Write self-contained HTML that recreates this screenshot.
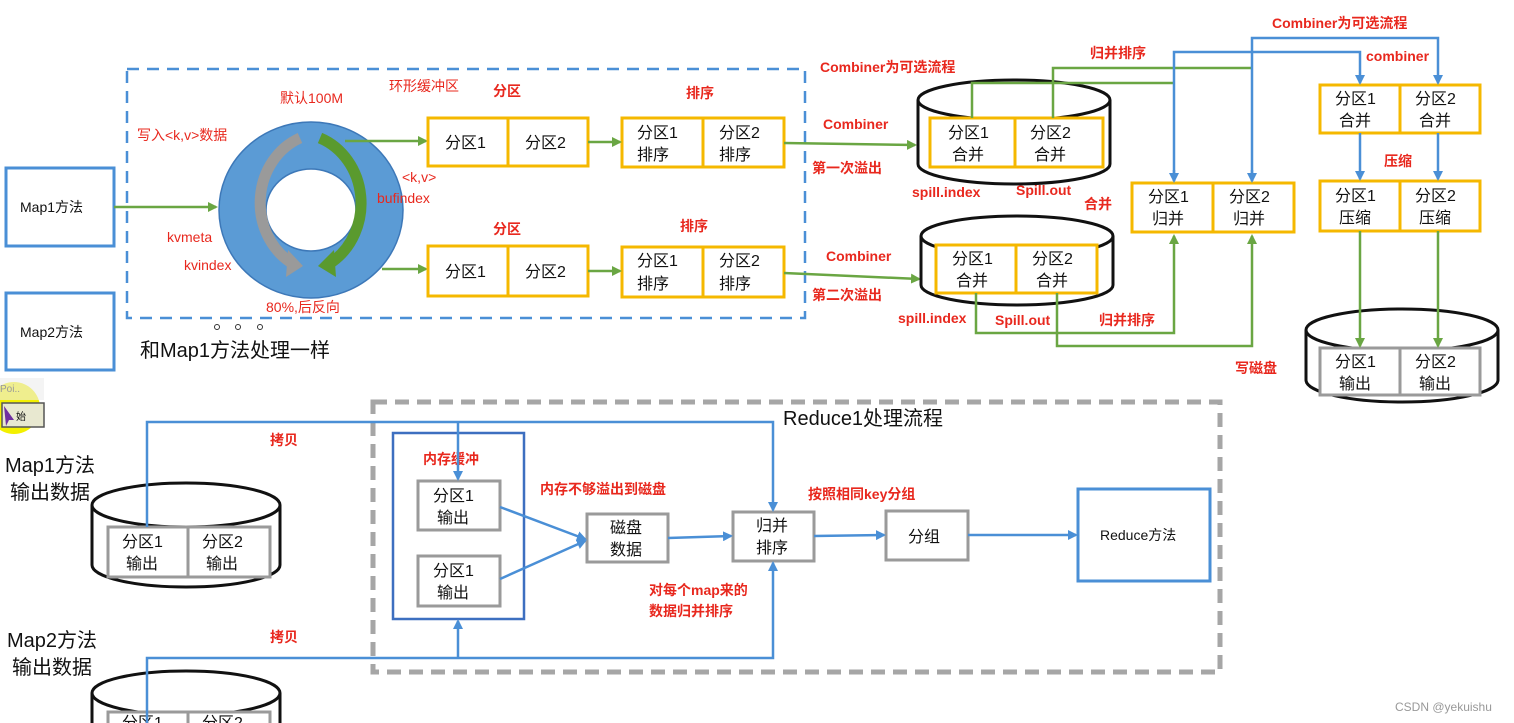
<!DOCTYPE html>
<html><head><meta charset="utf-8"><style>
html,body{margin:0;padding:0;background:#fff;}
svg{display:block;font-family:"Liberation Sans","Noto Sans CJK SC",sans-serif;}
.r{fill:#e8281e;font-weight:bold;font-size:14px;}
.rn{fill:#e8281e;font-size:14px;}
.b{fill:#111;font-size:17px;}
.s{fill:#111;font-size:14px;}
</style></head><body>
<svg width="1514" height="723" viewBox="0 0 1514 723" xmlns="http://www.w3.org/2000/svg">
<defs>
<marker id="ag" markerWidth="10" markerHeight="10" refX="8" refY="5" orient="auto" markerUnits="userSpaceOnUse"><path d="M0,0 L10,5 L0,10 z" fill="#6aa643"/></marker>
<marker id="ab" markerWidth="10" markerHeight="10" refX="8" refY="5" orient="auto" markerUnits="userSpaceOnUse"><path d="M0,0 L10,5 L0,10 z" fill="#4a8fd6"/></marker>
</defs>
<rect width="1514" height="723" fill="#fff"/>

<rect x="127" y="69" width="678" height="249" fill="none" stroke="#4a8fd6" stroke-width="2.5" stroke-dasharray="12,8"/>

<rect x="6" y="168" width="108" height="78" fill="#fff" stroke="#4a8fd6" stroke-width="3"/>
<text x="20" y="212" class="s">Map1方法</text>
<rect x="6" y="293" width="108" height="77" fill="#fff" stroke="#4a8fd6" stroke-width="3"/>
<text x="20" y="337" class="s">Map2方法</text>
<line x1="114" y1="207" x2="216" y2="207" stroke="#6aa643" stroke-width="2.5" marker-end="url(#ag)"/>

<ellipse cx="311" cy="210" rx="92" ry="88" fill="#5b9bd5" stroke="#3d78b8" stroke-width="1.5"/>
<ellipse cx="311" cy="210" rx="45" ry="41" fill="#fff" stroke="#3d78b8" stroke-width="1.5"/>
<path d="M300,138 A64,70 0 0 0 290,262" fill="none" stroke="#9a9a9a" stroke-width="11"/>
<path d="M288,250 L303,266 L286,277 z" fill="#9a9a9a"/>
<path d="M320,138 A64,70 0 0 1 332,262" fill="none" stroke="#5a9a2e" stroke-width="11"/>
<path d="M334,250 L318,266 L336,277 z" fill="#5a9a2e"/>

<text x="280" y="103" class="rn">默认100M</text>
<text x="389" y="91" class="rn">环形缓冲区</text>
<text x="137" y="140" class="rn">写入&lt;k,v&gt;数据</text>
<text x="402" y="182" class="rn">&lt;k,v&gt;</text>
<text x="377" y="203" class="rn">bufindex</text>
<text x="167" y="242" class="rn">kvmeta</text>
<text x="184" y="270" class="rn">kvindex</text>
<text x="266" y="312" class="rn">80%,后反向</text>

<line x1="345" y1="141" x2="426" y2="141" stroke="#6aa643" stroke-width="2.5" marker-end="url(#ag)"/>
<line x1="382" y1="269" x2="426" y2="269" stroke="#6aa643" stroke-width="2.5" marker-end="url(#ag)"/>
<g stroke="#f5b800" stroke-width="3" fill="#fff">
<rect x="428" y="118" width="160" height="48"/><line x1="508" y1="118" x2="508" y2="166"/>
<rect x="622" y="118" width="162" height="49"/><line x1="703" y1="118" x2="703" y2="167"/>
<rect x="428" y="246" width="160" height="50"/><line x1="508" y1="246" x2="508" y2="296"/>
<rect x="622" y="247" width="162" height="50"/><line x1="703" y1="247" x2="703" y2="297"/>
</g>
<g fill="#111" style="font-size:16px">
<text x="445" y="148">分区1</text><text x="525" y="148">分区2</text>
<text x="637" y="138">分区1</text><text x="637" y="160">排序</text>
<text x="719" y="138">分区2</text><text x="719" y="160">排序</text>
<text x="445" y="277">分区1</text><text x="525" y="277">分区2</text>
<text x="637" y="266">分区1</text><text x="637" y="289">排序</text>
<text x="719" y="266">分区2</text><text x="719" y="289">排序</text>
</g>
<line x1="588" y1="142" x2="620" y2="142" stroke="#6aa643" stroke-width="2.5" marker-end="url(#ag)"/>
<line x1="588" y1="271" x2="620" y2="271" stroke="#6aa643" stroke-width="2.5" marker-end="url(#ag)"/>
<text x="493" y="96" class="r">分区</text>
<text x="686" y="98" class="r">排序</text>
<text x="493" y="234" class="r">分区</text>
<text x="680" y="231" class="r">排序</text>
<text x="140" y="357" fill="#111" style="font-size:20px">和Map1方法处理一样</text>
<circle cx="217" cy="327" r="2.5" fill="none" stroke="#333"/><circle cx="238" cy="327" r="2.5" fill="none" stroke="#333"/><circle cx="260" cy="327" r="2.5" fill="none" stroke="#333"/>

<line x1="784" y1="143" x2="915" y2="145" stroke="#6aa643" stroke-width="2.5" marker-end="url(#ag)"/>
<line x1="784" y1="273" x2="919" y2="279" stroke="#6aa643" stroke-width="2.5" marker-end="url(#ag)"/>
<text x="823" y="129" class="r">Combiner</text>
<text x="812" y="173" class="r">第一次溢出</text>
<text x="826" y="261" class="r">Combiner</text>
<text x="812" y="300" class="r">第二次溢出</text>
<text x="820" y="72" class="r">Combiner为可选流程</text>

<g stroke="#111" stroke-width="3" fill="#fff">
<path d="M918,100 L918,164 A96,20 0 0 0 1110,164 L1110,100"/>
<ellipse cx="1014" cy="100" rx="96" ry="20"/>
<path d="M921,236 L921,285 A96,20 0 0 0 1113,285 L1113,236"/>
<ellipse cx="1017" cy="236" rx="96" ry="20"/>
<path d="M1306,330 L1306,380 A96,22 0 0 0 1498,380 L1498,330"/>
<ellipse cx="1402" cy="330" rx="96" ry="21"/>
</g>
<g stroke="#f5b800" stroke-width="3" fill="#fff">
<rect x="930" y="118" width="173" height="49"/><line x1="1015" y1="118" x2="1015" y2="167"/>
<rect x="936" y="245" width="161" height="48"/><line x1="1016" y1="245" x2="1016" y2="293"/>
<rect x="1132" y="183" width="162" height="49"/><line x1="1213" y1="183" x2="1213" y2="232"/>
<rect x="1320" y="85" width="160" height="48"/><line x1="1400" y1="85" x2="1400" y2="133"/>
<rect x="1320" y="181" width="160" height="50"/><line x1="1400" y1="181" x2="1400" y2="231"/>
</g>
<g stroke="#9a9a9a" stroke-width="3" fill="#fff">
<rect x="1320" y="348" width="160" height="47"/><line x1="1400" y1="348" x2="1400" y2="395"/>
</g>
<g fill="#111" style="font-size:16px">
<text x="948" y="138">分区1</text><text x="952" y="160">合并</text>
<text x="1030" y="138">分区2</text><text x="1034" y="160">合并</text>
<text x="952" y="264">分区1</text><text x="956" y="286">合并</text>
<text x="1032" y="264">分区2</text><text x="1036" y="286">合并</text>
<text x="1148" y="202">分区1</text><text x="1152" y="224">归并</text>
<text x="1229" y="202">分区2</text><text x="1233" y="224">归并</text>
<text x="1335" y="104">分区1</text><text x="1339" y="126">合并</text>
<text x="1415" y="104">分区2</text><text x="1419" y="126">合并</text>
<text x="1335" y="201">分区1</text><text x="1339" y="223">压缩</text>
<text x="1415" y="201">分区2</text><text x="1419" y="223">压缩</text>
<text x="1335" y="367">分区1</text><text x="1339" y="389">输出</text>
<text x="1415" y="367">分区2</text><text x="1419" y="389">输出</text>
</g>
<text x="912" y="197" class="r">spill.index</text>
<text x="1016" y="195" class="r">Spill.out</text>
<text x="1084" y="209" class="r">合并</text>
<text x="898" y="323" class="r">spill.index</text>
<text x="995" y="325" class="r">Spill.out</text>
<text x="1099" y="325" class="r">归并排序</text>
<text x="1090" y="58" class="r">归并排序</text>
<text x="1272" y="28" class="r">Combiner为可选流程</text>
<text x="1366" y="61" class="r">combiner</text>
<text x="1384" y="166" class="r">压缩</text>
<text x="1235" y="373" class="r">写磁盘</text>

<g fill="none" stroke="#6aa643" stroke-width="2.5">
<polyline points="972,118 972,83 1174,83"/>
<polyline points="1053,118 1053,68 1252,68"/>
<polyline points="976,293 976,333 1174,333 1174,236" marker-end="url(#ag)"/>
<polyline points="1057,293 1057,346 1252,346 1252,236" marker-end="url(#ag)"/>
<line x1="1360" y1="231" x2="1360" y2="346" marker-end="url(#ag)"/>
<line x1="1438" y1="231" x2="1438" y2="346" marker-end="url(#ag)"/>
</g>
<g fill="none" stroke="#4a8fd6" stroke-width="2.5">
<polyline points="1174,181 1174,52 1360,52 1360,83" marker-end="url(#ab)"/>
<polyline points="1252,181 1252,38 1438,38 1438,83" marker-end="url(#ab)"/>
<line x1="1174" y1="170" x2="1174" y2="181" marker-end="url(#ab)"/>
<line x1="1252" y1="170" x2="1252" y2="181" marker-end="url(#ab)"/>
<line x1="1360" y1="133" x2="1360" y2="179" marker-end="url(#ab)"/>
<line x1="1438" y1="133" x2="1438" y2="179" marker-end="url(#ab)"/>
</g>

<circle cx="14" cy="408" r="26" fill="#f3f000"/>
<rect x="0" y="378" width="44" height="22" fill="#ececec" opacity="0.6"/>
<rect x="2" y="403" width="42" height="24" fill="#e8e8d0" stroke="#555" stroke-width="1.5"/>
<text x="0" y="392" style="font-size:10px" fill="#999">Poi..</text>
<path d="M4,406 L14,420 L9,420 L6,426 z" fill="#7030a0"/>
<text x="16" y="420" style="font-size:10px" fill="#111">始</text>

<rect x="373" y="402" width="847" height="270" fill="none" stroke="#a6a6a6" stroke-width="5" stroke-dasharray="14,8"/>
<text x="783" y="425" fill="#111" style="font-size:20px">Reduce1处理流程</text>
<text x="5" y="472" fill="#111" style="font-size:20px">Map1方法</text>
<text x="10" y="499" fill="#111" style="font-size:20px">输出数据</text>
<text x="7" y="647" fill="#111" style="font-size:20px">Map2方法</text>
<text x="12" y="674" fill="#111" style="font-size:20px">输出数据</text>
<g stroke="#111" stroke-width="3" fill="#fff">
<path d="M92,505 L92,565 A94,22 0 0 0 280,565 L280,505"/>
<ellipse cx="186" cy="505" rx="94" ry="22"/>
<path d="M92,693 L92,730 L280,730 L280,693"/>
<ellipse cx="186" cy="693" rx="94" ry="22"/>
</g>
<g stroke="#9a9a9a" stroke-width="3" fill="#fff">
<rect x="108" y="527" width="162" height="50"/><line x1="188" y1="527" x2="188" y2="577"/>
<rect x="108" y="712" width="162" height="20"/><line x1="188" y1="712" x2="188" y2="732"/>
</g>
<g fill="#111" style="font-size:16px">
<text x="122" y="547">分区1</text><text x="126" y="569">输出</text>
<text x="202" y="547">分区2</text><text x="206" y="569">输出</text>
<text x="122" y="728">分区1</text><text x="202" y="728">分区2</text>
</g>
<text x="270" y="445" class="r">拷贝</text>
<text x="270" y="642" class="r">拷贝</text>

<rect x="393" y="433" width="131" height="186" fill="none" stroke="#3d6fc0" stroke-width="2.5"/>
<text x="423" y="464" class="r">内存缓冲</text>
<g stroke="#9a9a9a" stroke-width="3" fill="#fff">
<rect x="418" y="481" width="82" height="49"/>
<rect x="418" y="556" width="82" height="50"/>
<rect x="587" y="514" width="81" height="48"/>
<rect x="733" y="512" width="81" height="49"/>
<rect x="886" y="511" width="82" height="49"/>
</g>
<rect x="1078" y="489" width="132" height="92" fill="#fff" stroke="#4a8fd6" stroke-width="3"/>
<g fill="#111" style="font-size:16px">
<text x="433" y="501">分区1</text><text x="437" y="523">输出</text>
<text x="433" y="576">分区1</text><text x="437" y="598">输出</text>
<text x="610" y="533">磁盘</text><text x="610" y="555">数据</text>
<text x="756" y="531">归并</text><text x="756" y="553">排序</text>
<text x="908" y="542">分组</text>
</g>
<text x="1100" y="540" class="s">Reduce方法</text>
<g fill="none" stroke="#4a8fd6" stroke-width="2.5">
<polyline points="147,527 147,422 773,422 773,510" marker-end="url(#ab)"/>
<line x1="458" y1="422" x2="458" y2="479" marker-end="url(#ab)"/>
<polyline points="147,723 147,658 773,658 773,563" marker-end="url(#ab)"/>
<line x1="458" y1="658" x2="458" y2="621" marker-end="url(#ab)"/>
<line x1="500" y1="507" x2="585" y2="539" marker-end="url(#ab)"/>
<line x1="500" y1="579" x2="585" y2="541" marker-end="url(#ab)"/>
<line x1="668" y1="538" x2="731" y2="536" marker-end="url(#ab)"/>
<line x1="814" y1="536" x2="884" y2="535" marker-end="url(#ab)"/>
<line x1="968" y1="535" x2="1076" y2="535" marker-end="url(#ab)"/>
</g>
<text x="540" y="494" class="r">内存不够溢出到磁盘</text>
<text x="808" y="499" class="r">按照相同key分组</text>
<text x="649" y="595" class="r">对每个map来的</text>
<text x="649" y="616" class="r">数据归并排序</text>
<text x="1395" y="711" fill="#999" style="font-size:12px">CSDN @yekuishu</text>
</svg>
</body></html>
